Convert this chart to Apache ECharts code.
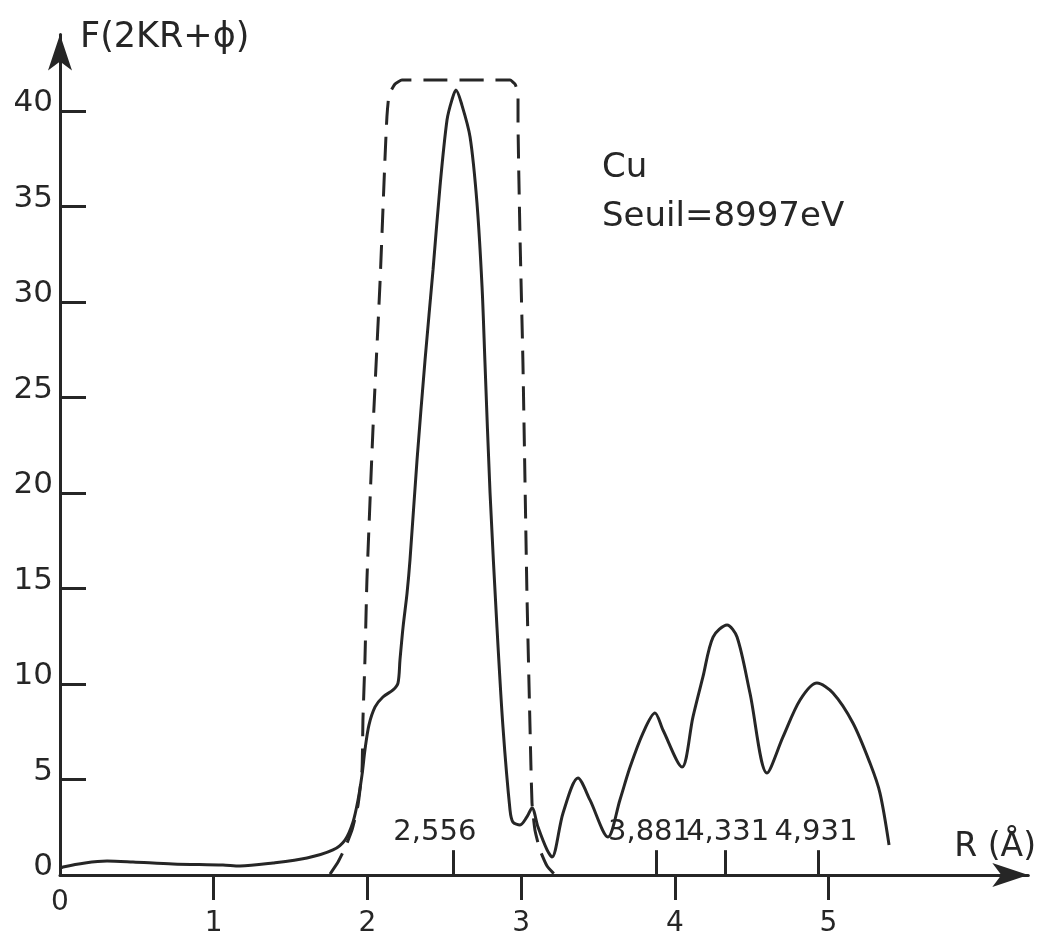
<!DOCTYPE html>
<html>
<head>
<meta charset="utf-8">
<title>F(2KR+ϕ) - Cu</title>
<script src="https://cdn.jsdelivr.net/npm/echarts@6/dist/echarts.min.js"></script>
<style>
html, body { margin: 0; padding: 0; background: #fff; }
#chart { width: 1048px; height: 937px; }
</style>
</head>
<body>
<div id="chart"></div>
<script>
// courbe F(2KR+phi)
var curveR = [0, 0.02, 0.163, 0.306, 0.475, 0.735, 1.06, 1.171, 1.386, 1.607, 1.776, 1.854, 1.906, 1.939, 1.965, 1.984, 2.01, 2.05, 2.101, 2.167, 2.199, 2.212, 2.232, 2.258, 2.277, 2.323, 2.375, 2.427, 2.472, 2.518, 2.55, 2.576, 2.615, 2.668, 2.713, 2.746, 2.765, 2.798, 2.843, 2.882, 2.928, 2.947, 2.993, 3.038, 3.071, 3.11, 3.169, 3.201, 3.273, 3.37, 3.448, 3.565, 3.643, 3.709, 3.793, 3.871, 3.923, 4.047, 4.118, 4.183, 4.249, 4.34, 4.405, 4.489, 4.6, 4.704, 4.815, 4.925, 5.029, 5.159, 5.27, 5.335, 5.394];
var curveF = [0.35, 0.42, 0.63, 0.73, 0.68, 0.58, 0.52, 0.47, 0.63, 0.89, 1.31, 1.83, 2.77, 3.93, 5.24, 6.54, 7.85, 8.8, 9.32, 9.69, 10.05, 11.26, 12.98, 14.76, 16.49, 21.73, 26.96, 31.68, 36.02, 39.53, 40.58, 41.1, 40.31, 38.64, 35.18, 30.79, 26.81, 20.0, 12.98, 7.75, 3.4, 2.77, 2.62, 3.04, 3.51, 2.51, 1.31, 0.94, 3.25, 5.08, 3.93, 1.99, 3.93, 5.65, 7.43, 8.48, 7.59, 5.65, 8.27, 10.37, 12.46, 13.09, 12.46, 9.53, 5.34, 7.23, 9.16, 10.05, 9.53, 7.96, 5.86, 4.29, 1.57];

// fenetre (trait interrompu)
var windowR = [1.757, 1.809, 1.854, 1.9, 1.939, 1.965, 1.971, 1.984, 1.997, 2.036, 2.082, 2.114, 2.127, 2.141, 2.18, 2.225, 2.928, 2.96, 2.98, 2.98, 2.993, 3.012, 3.038, 3.058, 3.071, 3.09, 3.123, 3.169, 3.221];
var windowF = [0.05, 0.68, 1.41, 2.36, 3.66, 5.5, 8.12, 11.26, 15.45, 23.3, 30.99, 37.43, 39.69, 40.84, 41.41, 41.62, 41.62, 41.41, 40.94, 39.53, 33.4, 26.81, 14.76, 7.75, 3.77, 2.36, 1.31, 0.47, 0];

// distances reperees
var peakR = [2.556, 3.881, 4.331, 4.931];
var peakLabels = ['2,556', '3,881', '4,331', '4,931'];

var xTicks = [1, 2, 3, 4, 5];
var yTicks = [0, 5, 10, 15, 20, 25, 30, 35, 40];

var ink = '#262626';
var font = 'DejaVu Sans';
var peakLabelDx = [-18, -7, 2, -2]; // decalage des etiquettes comme sur le trace

function pairs (xs, ys) {
  var out = [];
  for (var i = 0; i < xs.length; i++) {
    out.push([xs[i], ys[i]]);
  }
  return out;
}

var peakLines = peakR.map(function (r, i) {
  return [
    { coord: [r, 0], name: peakLabels[i], label: { offset: [peakLabelDx[i], 0] } },
    { coord: [r, 1.3] }
  ];
});

var chart = echarts.init(document.getElementById('chart'));
chart.setOption({
  animation: false,
  backgroundColor: '#fff',
  textStyle: { fontFamily: font, color: ink },
  title: {
    text: 'Cu\nSeuil=8997eV',
    left: 597,
    top: 139,
    textStyle: { fontFamily: font, fontSize: 34, fontWeight: 'normal', lineHeight: 49, color: ink }
  },
  grid: { left: 60, right: 19.7, top: 34.6, bottom: 62, containLabel: false, outerBoundsMode: 'none' },
  xAxis: [
    {
      type: 'value',
      position: 'bottom',
      min: 0,
      max: 6.3,
      interval: 1,
      name: 'R (Å)',
      nameLocation: 'end',
      nameGap: -74,
      nameTextStyle: { fontFamily: font, fontSize: 33, color: ink, verticalAlign: 'bottom', padding: [0, 0, 11, 0] },
      axisLine: { lineStyle: { color: ink, width: 3 }, symbol: ['none', 'arrow'], symbolSize: [18, 36] },
      axisTick: { show: true, inside: false, length: 25, lineStyle: { color: ink, width: 3 }, customValues: xTicks },
      axisLabel: { customValues: xTicks, margin: 35, fontSize: 28, color: ink, fontFamily: font },
      splitLine: { show: false }
    },
    {
      type: 'value',
      position: 'bottom',
      min: 0,
      max: 6.3,
      axisLine: { show: false },
      axisTick: { show: false },
      axisLabel: { customValues: [0], margin: 14, fontSize: 28, color: ink, fontFamily: font },
      splitLine: { show: false }
    }
  ],
  yAxis: {
    type: 'value',
    min: 0,
    max: 44,
    interval: 5,
    name: 'F(2KR+ϕ)',
    nameLocation: 'end',
    nameGap: -3,
    nameTextStyle: { fontFamily: font, fontSize: 35, color: ink, align: 'left', verticalAlign: 'middle', padding: [0, 0, 0, 20] },
    axisLine: { lineStyle: { color: ink, width: 3 }, symbol: ['none', 'arrow'], symbolSize: [18, 36] },
    axisTick: { show: true, inside: true, length: 26, lineStyle: { color: ink, width: 3 }, customValues: yTicks },
    axisLabel: { customValues: yTicks, margin: 7, fontSize: 31, color: ink, fontFamily: font, verticalAlign: 'bottom', lineHeight: 16 },
    splitLine: { show: false }
  },
  series: [
    {
      name: 'fenetre',
      type: 'line',
      data: pairs(windowR, windowF),
      showSymbol: false,
      smooth: 0.15,
      lineStyle: { color: ink, width: 3, type: [24, 12] },
      silent: true
    },
    {
      name: 'F',
      type: 'line',
      data: pairs(curveR, curveF),
      showSymbol: false,
      smooth: 0.3,
      lineStyle: { color: ink, width: 3 },
      silent: true
    },
    {
      name: 'pics',
      type: 'line',
      data: [],
      silent: true,
      markLine: {
        silent: true,
        symbol: ['none', 'none'],
        lineStyle: { color: ink, width: 3, type: 'solid' },
        label: {
          show: true,
          position: 'end',
          distance: 3,
          formatter: '{b}',
          fontSize: 29,
          fontFamily: font,
          color: ink
        },
        emphasis: { disabled: true },
        data: peakLines
      }
    }
  ]
});
</script>
</body>
</html>
